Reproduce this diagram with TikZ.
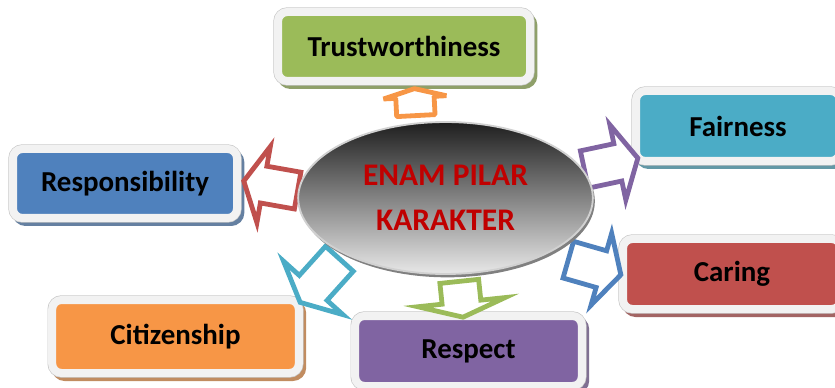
\documentclass[tikz,border=0pt]{standalone}
\usepackage{fontspec}
\setmainfont{Carlito}
\usetikzlibrary{shapes.geometric, shapes.arrows}
\definecolor{pilarGreen}{HTML}{9BBB59}
\definecolor{pilarBlue}{HTML}{4F81BD}
\definecolor{pilarAqua}{HTML}{4BACC6}
\definecolor{pilarRed}{HTML}{C0504D}
\definecolor{pilarOrange}{HTML}{F79646}
\definecolor{pilarPurple}{HTML}{8064A2}
\definecolor{frameGray}{HTML}{F2F2F2}
\definecolor{coreText}{HTML}{C00000}

\begin{document}
\begin{tikzpicture}[
  x=0.75pt, y=-0.75pt,
  pillar/.style={rounded corners=7pt, draw=frameGray, line width=6pt, fill=#1, inner sep=0pt, align=center,
    font=\fontsize{21.7}{26}\selectfont\bfseries, text=black,
    preaction={draw=#1!55!gray, fill=#1!55!gray, line width=6pt, transform canvas={shift={(2.5pt,-3pt)}}},
    preaction={draw=black!22, line width=7pt}},
  pilararrow/.style={single arrow, draw=#1, line width=3.6pt, fill=white, inner xsep=0pt, anchor=tail},
  core/.style={ellipse, inner sep=0pt, minimum width=221pt, minimum height=114pt,
    top color=black!88, bottom color=black!9, draw=black!18, line width=1.4pt,
    preaction={fill=black!50, transform canvas={shift={(1.5pt,-2.5pt)}}},
    align=center, text=coreText, font=\fontsize{23.6}{33.75}\selectfont\bfseries}
]
\useasboundingbox (0,0) rectangle (835,388);
\clip (0,0) rectangle (835,388);

% kotak pilar
\node[pillar=pilarGreen, minimum width=189pt, minimum height=51.75pt]  (trust)   at (404,46.5)  {Trustworthiness};
\node[pillar=pilarBlue, minimum width=168pt, minimum height=51.75pt]   (resp)    at (125,183.5) {Responsibility};
\node[pillar=pilarAqua, minimum width=153pt, minimum height=52.5pt]    (fair)    at (738,126)   {Fairness};
\node[pillar=pilarRed, minimum width=163.5pt, minimum height=52.5pt]   (caring)  at (732,274)   {Caring};
\node[pillar=pilarOrange, minimum width=185pt, minimum height=54.75pt] (citizen) at (175.5,336.5) {Citizenship};
\node[pillar=pilarPurple, minimum width=170pt, minimum height=52.5pt]  (respect) at (468.5,351) {Respect};

% panah blok dari pusat
\node[pilararrow=pilarOrange, line join=bevel, inner ysep=12.6pt, single arrow head extend=9.2pt, single arrow tip angle=149, minimum height=20.25pt, rotate=93] (arTrust) at (416,118) {};
\node[pilararrow=pilarRed, inner ysep=12.2pt, single arrow head extend=15pt, single arrow tip angle=125, minimum height=41pt, rotate=170] (arResp) at (300,191) {};
\node[pilararrow=pilarPurple, inner ysep=12.5pt, single arrow head extend=14.5pt, single arrow tip angle=124, minimum height=41pt, rotate=12] (arFair) at (582,170) {};
\node[pilararrow=pilarBlue, inner ysep=12.5pt, single arrow head extend=13.7pt, single arrow tip angle=123, minimum height=41pt, rotate=-16] (arCaring) at (566,259) {};
\node[pilararrow=pilarAqua, inner ysep=12.2pt, single arrow head extend=16pt, single arrow tip angle=128, minimum height=44pt, rotate=-132] (arCitizen) at (341,257) {};
\node[pilararrow=pilarGreen, inner ysep=12.8pt, single arrow head extend=18.3pt, single arrow tip angle=142, minimum height=27pt, rotate=-84] (arRespect) at (459,279) {};

% pusat
\node[core] (core) at (445.5,198) {ENAM PILAR\\KARAKTER};
\end{tikzpicture}
\end{document}
